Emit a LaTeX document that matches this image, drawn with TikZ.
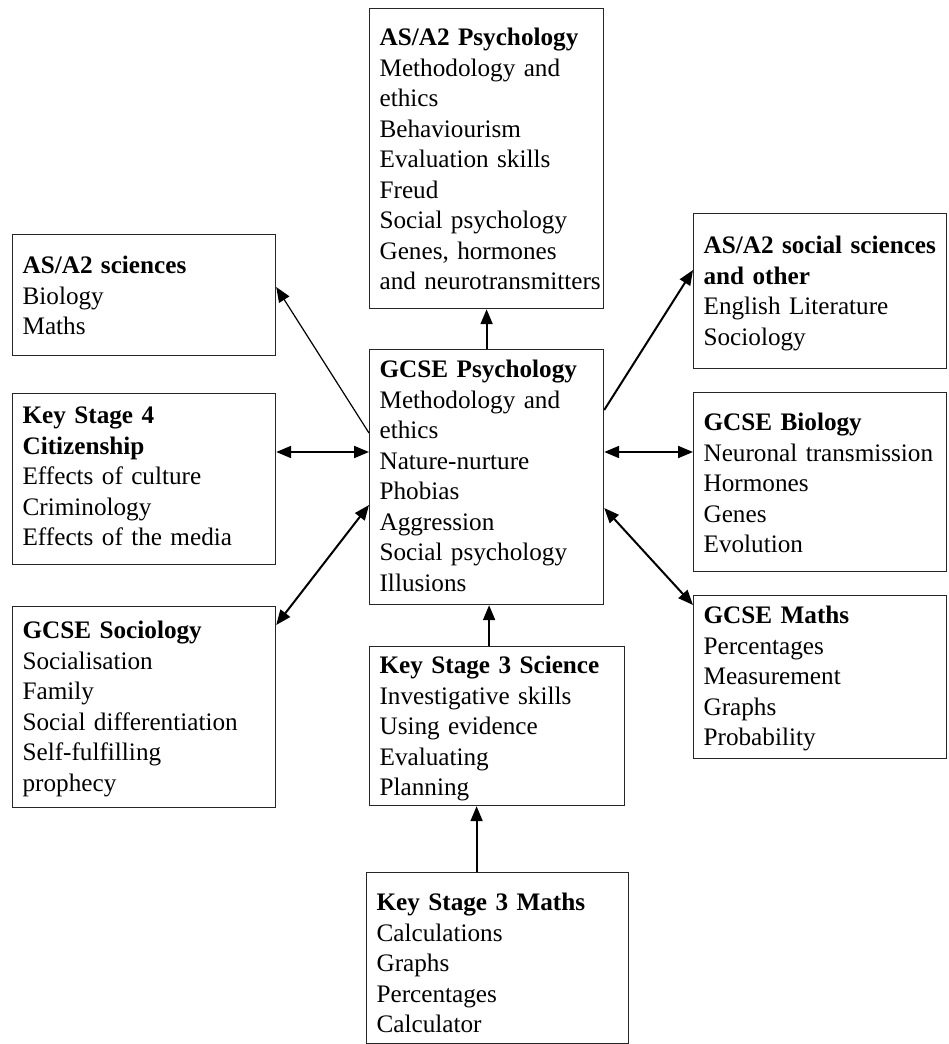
\documentclass[tikz,border=0pt]{standalone}
\usepackage{fontspec}
\setmainfont{Liberation Serif}
\usetikzlibrary{arrows.meta}

\newcommand{\subjfont}{\fontsize{25.2}{30.5}\selectfont\hyphenpenalty=10000 \exhyphenpenalty=10000 }

\tikzset{
    subject/.style={draw=black!85, line width=1.2pt, anchor=north west, inner xsep=10pt, inner ysep=0pt, align=left, font=\subjfont},
    link/.style={line width=2pt, -{Triangle[length=15pt,width=12pt]}},
    twolink/.style={line width=2pt, {Triangle[length=15pt,width=12pt]}-{Triangle[length=15pt,width=12pt]}},
}

\begin{document}
\begin{tikzpicture}[x=1pt,y=-1pt]
\useasboundingbox (0,0) rectangle (948,1044);

%middle column
\node[subject, text width=214pt, text height=37pt, text depth=263pt] (psyA) at (369,8){\textbf{AS/A2 Psychology}\\Methodology and\\ethics\\Behaviourism\\Evaluation skills\\Freud\\Social psychology\\Genes, hormones\\and~neurotransmitters};
\node[subject, text width=214pt, text height=28pt, text depth=227pt] (gcse) at (369,349){\textbf{GCSE Psychology}\\Methodology and\\ethics\\Nature-nurture\\Phobias\\Aggression\\Social psychology\\Illusions};
\node[subject, text width=235pt, text height=27pt, text depth=132pt] (ksSci) at (369,646){\textbf{Key Stage 3 Science}\\Investigative skills\\Using evidence\\Evaluating\\Planning};
\node[subject, text width=242pt, text height=38pt, text depth=133pt] (ksMaths) at (366,872){\textbf{Key Stage 3 Maths}\\Calculations\\Graphs\\Percentages\\Calculator};

%left column
\node[subject, text width=243pt, text height=39pt, text depth=82pt] (asSci) at (12,234){\textbf{AS/A2 sciences}\\Biology\\Maths};
\node[subject, text width=243pt, text height=30pt, text depth=141pt] (citizen) at (12,393){\textbf{Key Stage 4}\\\textbf{Citizenship}\\Effects of culture\\Criminology\\Effects of the media};
\node[subject, text width=243pt, text height=32pt, text depth=169pt] (gcseSoc) at (12,606){\textbf{GCSE Sociology}\\Socialisation\\Family\\Social differentiation\\Self-fulfilling\\prophecy};

%right column
\node[subject, text width=233pt, text height=40pt, text depth=115pt] (asSocial) at (693,213){\textbf{AS/A2~social~sciences}\\\textbf{and other}\\English Literature\\Sociology};
\node[subject, text width=233pt, text height=38pt, text depth=141pt] (gcseBio) at (693,392){\textbf{GCSE Biology}\\Neuronal~transmission\\Hormones\\Genes\\Evolution};
\node[subject, text width=233pt, text height=28pt, text depth=135pt] (gcseMaths) at (693,595){\textbf{GCSE Maths}\\Percentages\\Measurement\\Graphs\\Probability};

%arrows up the middle
\draw[link] ([xshift=-21pt]ksMaths.north) -- ([xshift=-21pt]ksMaths.north |- ksSci.south);
\draw[link] ([xshift=-8pt]ksSci.north) -- ([xshift=-8pt]ksSci.north |- gcse.south);
\draw[link] (gcse.north) -- (psyA.south);

%left side
\draw[link, line width=1.2pt] ([yshift=-84pt]gcse.north west) -- ([yshift=-53pt]asSci.north east);
\draw[twolink] ([yshift=-59pt]citizen.north east) -- ([yshift=-103pt]gcse.north west);
\draw[twolink] ([yshift=-19pt]gcseSoc.north east) -- ([yshift=-156pt]gcse.north west);

%right side
\draw[link] ([yshift=-61pt]gcse.north east) -- ([yshift=-57pt]asSocial.north west);
\draw[twolink] ([yshift=-103pt]gcse.north east) -- ([yshift=-60pt]gcseBio.north west);
\draw[twolink] ([yshift=-159pt]gcse.north east) -- ([yshift=-10pt]gcseMaths.north west);

\end{tikzpicture}
\end{document}
